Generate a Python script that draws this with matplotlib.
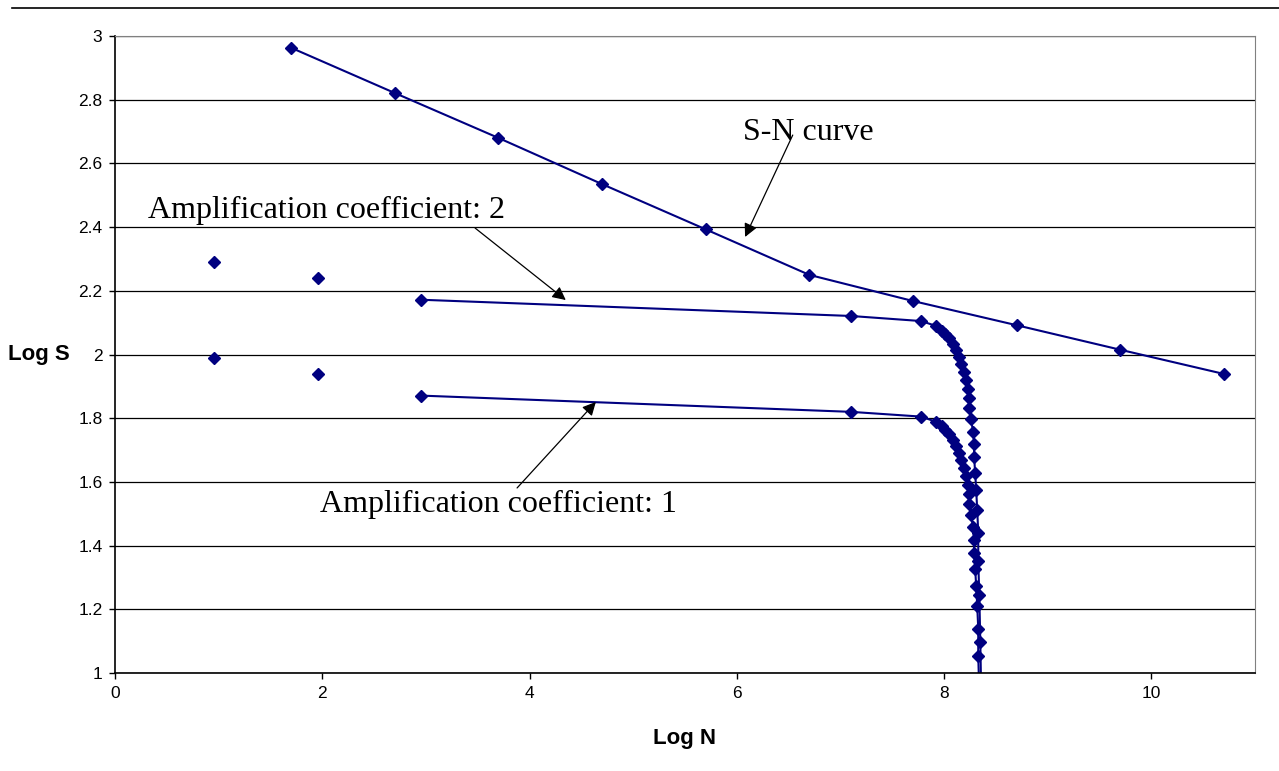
import matplotlib.pyplot as plt
from matplotlib.lines import Line2D

# S-N curve
sn_logN = [1.7, 2.7, 3.7, 4.7, 5.7, 6.7, 7.7, 8.7, 9.7, 10.7]
sn_logS = [2.963, 2.821, 2.680, 2.535, 2.393, 2.250, 2.168, 2.092, 2.015, 1.939]

# amplification coefficient 2
a2_logN = [2.95, 7.10, 7.78, 7.92, 7.98, 8.01, 8.05, 8.09, 8.12, 8.14, 8.16, 8.19,
           8.21, 8.23, 8.24, 8.24, 8.26, 8.28, 8.29, 8.29, 8.30, 8.31, 8.32, 8.33,
           8.33, 8.34, 8.35, 8.36]
a2_logS = [2.172, 2.121, 2.105, 2.090, 2.075, 2.065, 2.051, 2.033, 2.014, 1.991, 1.969, 1.946,
           1.920, 1.891, 1.862, 1.831, 1.796, 1.758, 1.719, 1.679, 1.629, 1.575, 1.512, 1.440,
           1.353, 1.244, 1.098, 0.900]
a2_extra_N = [0.96, 1.96]
a2_extra_S = [2.289, 2.239]

# amplification coefficient 1
a1_logN = [2.95, 7.10, 7.78, 7.92, 7.98, 8.01, 8.05, 8.09, 8.12, 8.14, 8.16, 8.19,
           8.21, 8.23, 8.24, 8.24, 8.26, 8.28, 8.29, 8.29, 8.30, 8.31, 8.32, 8.33,
           8.33, 8.34, 8.35]
a1_logS = [1.871, 1.820, 1.805, 1.789, 1.774, 1.764, 1.750, 1.732, 1.713, 1.690, 1.668, 1.645,
           1.619, 1.590, 1.561, 1.530, 1.495, 1.457, 1.418, 1.378, 1.328, 1.274, 1.211, 1.139,
           1.052, 0.943, 0.797]
a1_extra_N = [0.96, 1.96]
a1_extra_S = [1.988, 1.939]

navy = '#000080'

fig = plt.figure(figsize=(12.79, 7.71), dpi=100)
ax = fig.add_axes([0.0899, 0.1271, 0.8913, 0.8262])

mk = dict(marker='D', markersize=6.5, color=navy, lw=1.5)
ax.plot(sn_logN, sn_logS, **mk)
ax.plot(a2_logN, a2_logS, **mk)
ax.plot(a1_logN, a1_logS, **mk)
ax.plot(a2_extra_N, a2_extra_S, 'D', ms=6.5, color=navy, ls='none')
ax.plot(a1_extra_N, a1_extra_S, 'D', ms=6.5, color=navy, ls='none')

ax.set_xlim(0, 11)
ax.set_ylim(1, 3)
ax.set_xticks([0, 2, 4, 6, 8, 10])
ax.set_yticks([1, 1.2, 1.4, 1.6, 1.8, 2, 2.2, 2.4, 2.6, 2.8, 3])
ax.set_yticklabels(['1', '1.2', '1.4', '1.6', '1.8', '2', '2.2', '2.4', '2.6', '2.8', '3'])
ax.yaxis.grid(True, color='black', lw=0.9)
ax.set_axisbelow(True)
for s in ['top', 'right']:
    ax.spines[s].set_color('#808080')
for s in ['left', 'bottom']:
    ax.spines[s].set_color('black')
    ax.spines[s].set_linewidth(1.2)
ax.tick_params(direction='out', length=4, width=1, labelsize=12.5, pad=5,
               labelfontfamily='Liberation Sans')

ax.set_xlabel('Log N', fontsize=16, fontweight='bold', family='Liberation Sans', labelpad=20)
ax.set_ylabel('Log S', fontsize=16, fontweight='bold', family='Liberation Sans',
              rotation=0, labelpad=28, va='center')

# annotations
serif = dict(fontsize=23, family='Liberation Serif', va='baseline', ha='left')
ax.text(6.06, 2.673, 'S-N curve', **serif)
ax.text(0.32, 2.429, 'Amplification coefficient: 2', **serif)
ax.text(1.98, 1.505, 'Amplification coefficient: 1', **serif)

arrow = dict(arrowstyle='-|>', color='black', lw=0.9, mutation_scale=20, shrinkA=0, shrinkB=0)
ax.annotate('', xy=(6.08, 2.369), xytext=(6.54, 2.689), arrowprops=arrow)
ax.annotate('', xy=(4.35, 2.171), xytext=(3.475, 2.397), arrowprops=arrow)
ax.annotate('', xy=(4.64, 1.851), xytext=(3.88, 1.581), arrowprops=arrow)

fig.add_artist(Line2D([0.009, 1.0], [0.99, 0.99], color='black', lw=1.2,
                      transform=fig.transFigure))

fig.savefig('out.png', dpi=100)
